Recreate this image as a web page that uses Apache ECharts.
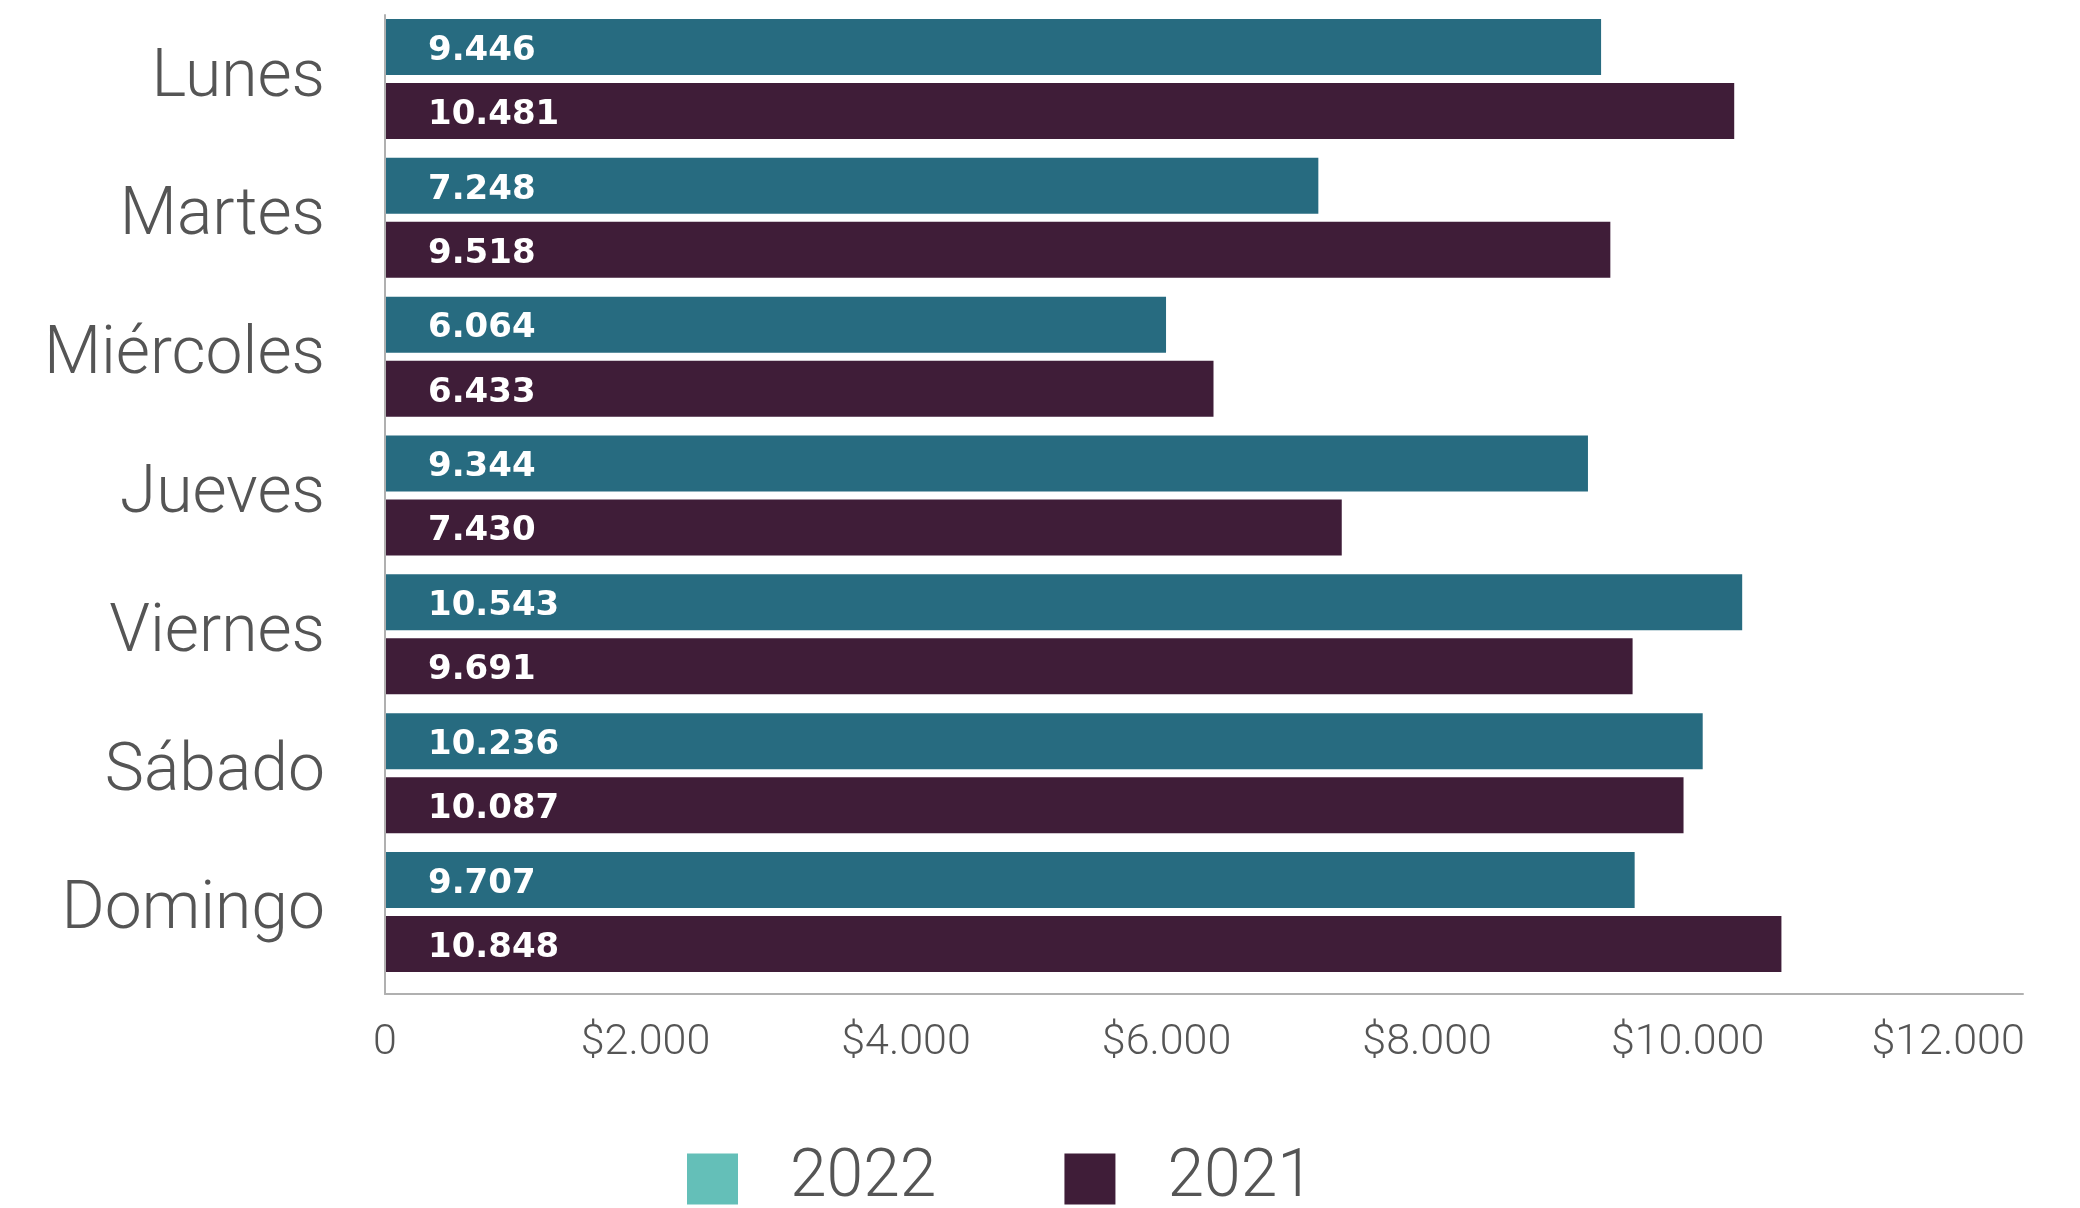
<!DOCTYPE html>
<html>
<head>
<meta charset="utf-8">
<script src="https://cdn.jsdelivr.net/npm/echarts@6/dist/echarts.min.js"></script>
<style>
html,body{margin:0;padding:0;background:#fff;}
#chart{width:2080px;height:1208px;}
</style>
</head>
<body>
<div id="chart"></div>
<script>
// ---- data ----
const categories = ['Lunes', 'Martes', 'Miércoles', 'Jueves', 'Viernes', 'Sábado', 'Domingo'];
const values2022 = [9446, 7248, 6064, 9344, 10543, 10236, 9707];
const values2021 = [10481, 9518, 6433, 7430, 9691, 10087, 10848];
const seriesNames = ['2022', '2021'];
const tickValues = [0, 2000, 4000, 6000, 8000, 10000, 12000];

function thousands(v) {
  return String(Math.round(v)).replace(/\B(?=(\d{3})+(?!\d))/g, '.');
}
function tickLabel(v) {
  return v === 0 ? '0' : '$' + thousands(v);
}

const chart = echarts.init(document.getElementById('chart'));
const labelFont = 'Roboto';
const grey = '#555555';
const axisGrey = '#b0b0b0';

const barLabel = {
  show: true,
  position: 'insideLeft',
  distance: 42,
  offset: [0, 4],
  color: '#ffffff',
  fontFamily: 'DejaVu Sans',
  fontWeight: 'bold',
  fontSize: 34,
  formatter: p => thousands(p.value)
};

chart.setOption({
  animation: false,
  backgroundColor: '#ffffff',
  grid: [
    { left: 386, right: 57, top: 9.6, bottom: 226.6, containLabel: false },
    { left: 385, right: 57, top: 15, bottom: 214, containLabel: false }
  ],
  xAxis: [
    {
      type: 'value', gridIndex: 0, min: 0, max: 12726,
      show: false
    },
    {
      type: 'value', gridIndex: 1, min: 0, max: 12575, interval: 2000,
      axisLine: { show: true, lineStyle: { color: axisGrey, width: 2 } },
      axisTick: { show: false },
      splitLine: { show: false },
      axisLabel: {
        show: true, showMaxLabel: false, margin: 28,
        fontFamily: labelFont, fontWeight: 300, fontSize: 43, color: grey,
        formatter: v => tickValues.indexOf(v) >= 0 ? tickLabel(v) : ''
      }
    }
  ],
  yAxis: [
    {
      type: 'category', gridIndex: 0, data: categories, inverse: true,
      axisLine: { show: false }, axisTick: { show: false }, splitLine: { show: false },
      axisLabel: {
        margin: 61, fontFamily: labelFont, fontWeight: 300, fontSize: 66, color: grey
      }
    },
    {
      type: 'value', gridIndex: 1, min: 0, max: 1,
      axisLine: { show: true, lineStyle: { color: axisGrey, width: 2 } },
      axisTick: { show: false }, splitLine: { show: false },
      axisLabel: { show: false }
    }
  ],
  legend: {
    left: 682, top: 1141,
    itemWidth: 51, itemHeight: 51, itemGap: 128,
    icon: 'rect',
    data: [
      { name: seriesNames[0], itemStyle: { color: '#64BFB8' } },
      { name: seriesNames[1], itemStyle: { color: '#3F1D38' } }
    ],
    textStyle: {
      fontFamily: labelFont, fontWeight: 300, fontSize: 66, color: grey,
      lineHeight: 51, padding: [0, 0, 0, 47]
    }
  },
  series: [
    {
      name: seriesNames[0], type: 'bar', xAxisIndex: 0, yAxisIndex: 0,
      data: values2022, barWidth: 56, barGap: '14.3%',
      itemStyle: { color: '#276B80' }, label: barLabel
    },
    {
      name: seriesNames[1], type: 'bar', xAxisIndex: 0, yAxisIndex: 0,
      data: values2021, barWidth: 56, barGap: '14.3%',
      itemStyle: { color: '#3F1D38' }, label: barLabel
    }
  ]
});
</script>
</body>
</html>
